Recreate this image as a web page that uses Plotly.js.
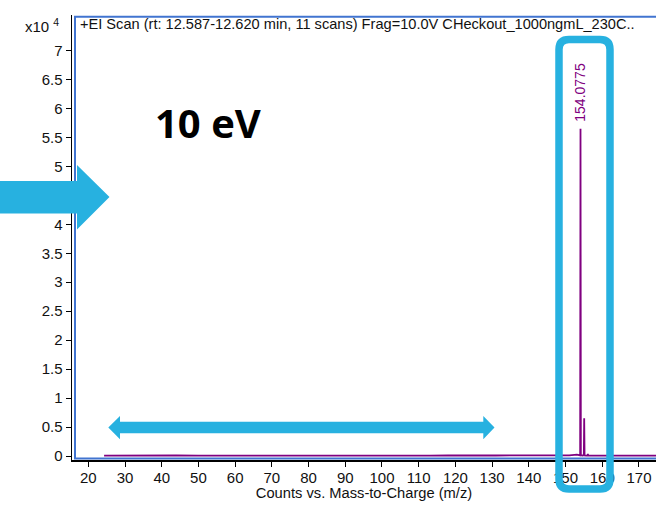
<!DOCTYPE html>
<html>
<head>
<meta charset="utf-8">
<script src="https://cdn.plot.ly/plotly-3.0.1.min.js"></script>
<style>
  html, body { margin: 0; padding: 0; background: #ffffff; }
  #chart { width: 656px; height: 505px; }
</style>
</head>
<body>
<div id="chart"></div>
<script>
// EI spectrum, 10 eV, scan 12.587-12.620 min: m/z and counts
const mz = [24.3, 28, 32, 36, 41, 44, 50, 55, 60, 65, 70, 77, 83, 90, 96, 102, 108, 113, 118, 122, 127, 131, 136, 140, 144, 148, 151, 153.1,
            153.98, 154.0775, 154.17, 154.6, 154.98, 155.08, 155.18, 155.6, 155.98, 156.08, 156.18,
            158, 161, 165, 168, 172, 175];
const counts = [60, 80, 50, 70, 60, 90, 60, 80, 70, 60, 50, 90, 70, 80, 60, 70, 110, 60, 120, 80, 130, 90, 110, 80, 120, 90, 100, 250,
                120, 56500, 120, 90, 120, 6500, 110, 80, 90, 350, 80,
                70, 90, 60, 80, 70, 60];

// Labelled peak
const labelMz = [154.0775];
const labelCounts = [56500];
const labelText = ['154.0775'];

// Axis ticks
const xTicks = [20, 30, 40, 50, 60, 70, 80, 90, 100, 110, 120, 130, 140, 150, 160, 170];
const yTickVals = [0, 5000, 10000, 15000, 20000, 25000, 30000, 35000, 40000, 45000, 50000, 55000, 60000, 65000, 70000];
const yTickText = ['0', '0.5', '1', '1.5', '2', '2.5', '3', '3.5', '4', '4.5', '5', '5.5', '6', '6.5', '7'];

const W = 656, H = 505;
const M = { l: 72, r: 0, t: 15, b: 45 };
const PW = W - M.l - M.r, PH = H - M.t - M.b;
// pixel position -> paper coordinate
const px = x => (x - M.l) / PW;
const py = y => (H - M.b - y) / PH;
const path = pts => 'M ' + pts.map(p => px(p[0]).toFixed(5) + ' ' + py(p[1]).toFixed(5)).join(' L ') + ' Z';

const FONT = 'Liberation Sans, Arial, sans-serif';
const PURPLE = '#800080';
const FRAME = '#4174D0';
const CYAN = '#27B1E0';

// rounded box around the molecular ion
function roundRect(x0, y0, x1, y1, r) {
  const X = v => px(v).toFixed(5), Y = v => py(v).toFixed(5);
  return `M ${X(x0 + r)} ${Y(y0)} L ${X(x1 - r)} ${Y(y0)} Q ${X(x1)} ${Y(y0)} ${X(x1)} ${Y(y0 + r)} ` +
         `L ${X(x1)} ${Y(y1 - r)} Q ${X(x1)} ${Y(y1)} ${X(x1 - r)} ${Y(y1)} ` +
         `L ${X(x0 + r)} ${Y(y1)} Q ${X(x0)} ${Y(y1)} ${X(x0)} ${Y(y1 - r)} ` +
         `L ${X(x0)} ${Y(y0 + r)} Q ${X(x0)} ${Y(y0)} ${X(x0 + r)} ${Y(y0)} Z`;
}

const trace = {
  x: mz, y: counts, type: 'scatter', mode: 'lines',
  line: { color: PURPLE, width: 1.8 },
  hoverinfo: 'skip', showlegend: false
};

const layout = {
  width: W, height: H,
  margin: M,
  paper_bgcolor: '#ffffff', plot_bgcolor: '#ffffff',
  showlegend: false,
  title: {
    text: '+EI Scan (rt: 12.587-12.620 min, 11 scans) Frag=10.0V CHeckout_1000ngmL_230C..',
    x: 80 / W, xanchor: 'left', y: 1 - 24 / H, yanchor: 'middle',
    font: { family: FONT, size: 14.6, color: '#111111' }
  },
  xaxis: {
    range: [15.56, 174.64],
    tickvals: xTicks,
    ticks: 'outside', ticklen: 5, tickwidth: 1, tickcolor: '#000000',
    showline: true, linecolor: '#000000', linewidth: 1.5,
    showgrid: false, zeroline: false,
    tickfont: { family: FONT, size: 15, color: '#111111' },
    ticklabelstandoff: -2,
    title: { text: 'Counts vs. Mass-to-Charge (m/z)', font: { family: FONT, size: 14.7, color: '#111111' }, standoff: 2 },
    automargin: false
  },
  yaxis: {
    range: [-690, 76126],
    tickvals: yTickVals, ticktext: yTickText,
    ticks: 'outside', ticklen: 5, tickwidth: 1, tickcolor: '#000000',
    showline: true, linecolor: '#000000', linewidth: 1.5,
    showgrid: false, zeroline: false,
    tickfont: { family: FONT, size: 15, color: '#111111' },
    automargin: false
  },
  annotations: [
    {
      xref: 'paper', yref: 'paper', x: px(61), y: py(25), xanchor: 'right', yanchor: 'middle',
      text: 'x10 <sup>4</sup>', showarrow: false,
      font: { family: FONT, size: 15, color: '#111111' }
    },
    {
      xref: 'paper', yref: 'paper', x: px(208), y: py(123), xanchor: 'center', yanchor: 'middle',
      text: '<b>10 eV</b>', showarrow: false,
      font: { family: 'Open Sans, sans-serif', size: 40, color: '#000000' }
    },
    ...labelMz.map((m, i) => ({
      x: m, y: labelCounts[i], xref: 'x', yref: 'y',
      text: labelText[i], textangle: -90, showarrow: false,
      xanchor: 'center', yanchor: 'bottom', yshift: 5,
      font: { family: FONT, size: 14, color: PURPLE }
    }))
  ],
  shapes: [
    // blue plot frame
    { type: 'line', xref: 'paper', yref: 'paper', x0: px(74), x1: 1.01, y0: py(16.7), y1: py(16.7), line: { color: FRAME, width: 2 }, layer: 'above' },
    { type: 'line', xref: 'paper', yref: 'paper', x0: px(75), x1: px(75), y0: py(16), y1: py(459), line: { color: FRAME, width: 2 }, layer: 'above' },
    { type: 'line', xref: 'paper', yref: 'paper', x0: px(74), x1: 1.01, y0: py(458.5), y1: py(458.5), line: { color: FRAME, width: 2 }, layer: 'below' },
    // arrow pointing into the chart
    { type: 'path', xref: 'paper', yref: 'paper', layer: 'above',
      path: path([[0, 181], [77, 181], [77, 165], [109.5, 197], [77, 229.5], [77, 213.5], [0, 213.5]]),
      fillcolor: CYAN, line: { width: 0 } },
    // double arrow spanning the low-mass range
    { type: 'path', xref: 'paper', yref: 'paper', layer: 'above',
      path: path([[108.3, 427.5], [120, 416], [120, 421.7], [483.3, 421.7], [483.3, 416], [494.5, 427.5],
                  [483.3, 439.3], [483.3, 433.3], [120, 433.3], [120, 439.3]]),
      fillcolor: CYAN, line: { width: 0 } },
    // box around the molecular ion
    { type: 'path', xref: 'paper', yref: 'paper', layer: 'above',
      path: roundRect(559, 39.5, 610, 489, 10),
      line: { color: CYAN, width: 7.5 }, fillcolor: 'rgba(0,0,0,0)' }
  ]
};

Plotly.newPlot('chart', [trace], layout, { displayModeBar: false, staticPlot: true });
</script>
</body>
</html>
